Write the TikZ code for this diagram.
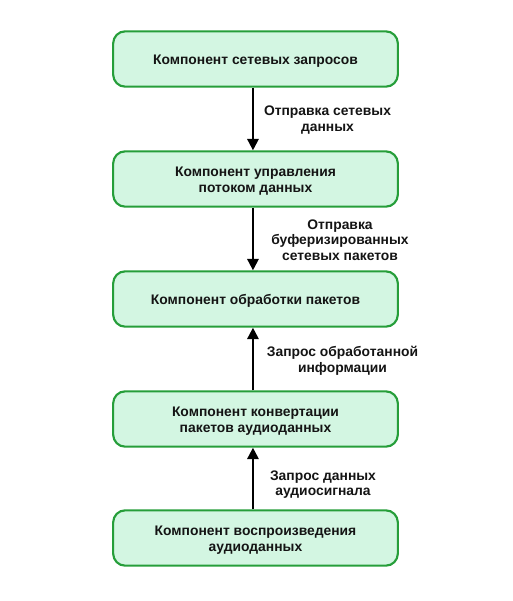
\documentclass[tikz,border=0pt]{standalone}
\usepackage{fontspec}
\setmainfont{Liberation Sans}
\usetikzlibrary{arrows.meta}
\definecolor{boxfill}{RGB}{211,246,226}
\definecolor{boxdraw}{RGB}{38,158,58}
\definecolor{txt}{RGB}{20,20,20}
\tikzset{
  comp/.style={draw=boxdraw, fill=boxfill, line width=1.6pt, rounded corners=9pt,
    minimum width=213.5pt, minimum height=41.5pt, inner sep=0pt},
  comptext/.style={align=center, inner sep=0pt, yshift=-1.5pt,
    font=\fontsize{10.4}{11.6}\selectfont\bfseries, text=txt},
  lbl/.style={align=center, inner sep=0pt, font=\fontsize{10.4}{11.8}\selectfont\bfseries, text=txt},
  conn/.style={line width=1.5pt, -{Triangle[length=8.5pt,width=8.5pt]}}
}
\begin{document}
\begin{tikzpicture}[x=0.75pt,y=-0.75pt]
\useasboundingbox (0,0) rectangle (512,601);
\node[comp, label={[comptext]center:{Компонент сетевых запросов}}] (b1) at (255.5,59) {};
\node[comp, label={[comptext]center:{Компонент управления\\потоком данных}}] (b2) at (255.5,179) {};
\node[comp, label={[comptext]center:{Компонент обработки пакетов}}] (b3) at (255.5,299) {};
\node[comp, label={[comptext]center:{Компонент конвертации\\пакетов аудиоданных}}] (b4) at (255.5,419) {};
\node[comp, label={[comptext]center:{Компонент воспроизведения\\аудиоданных}}] (b5) at (255.5,538) {};
\draw[conn] ([xshift=-1.9pt]b1.south) -- ([xshift=-1.9pt]b2.north);
\draw[conn] ([xshift=-1.9pt]b2.south) -- ([xshift=-1.9pt]b3.north);
\draw[conn] ([xshift=-1.9pt]b4.north) -- ([xshift=-1.9pt]b3.south);
\draw[conn] ([xshift=-1.9pt]b5.north) -- ([xshift=-1.9pt]b4.south);
\node[lbl] (l1) at (327.5,120) {Отправка сетевых\\данных};
\node[lbl] (l2) at (340,240) {Отправка\\буферизированных\\сетевых пакетов};
\node[lbl] (l3) at (342.5,361) {Запрос обработанной\\информации};
\node[lbl] (l4) at (323,484.5) {Запрос данных\\аудиосигнала};
\end{tikzpicture}
\end{document}
